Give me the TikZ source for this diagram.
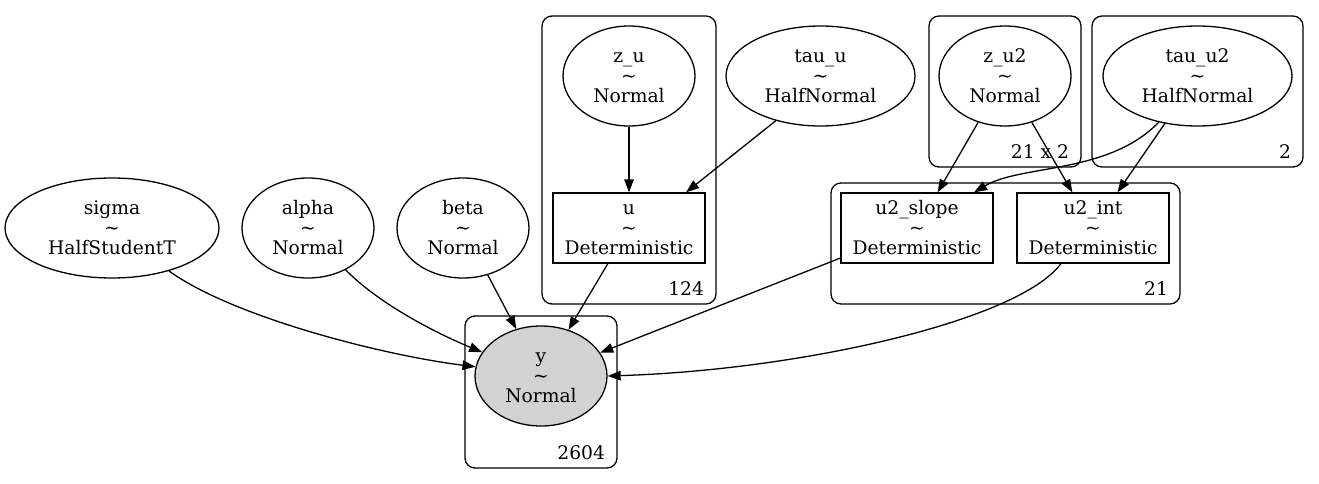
\documentclass[tikz,border=0pt]{standalone}
\usepackage{fontspec}
\setmainfont{DejaVu Serif}
\usetikzlibrary{shapes.geometric, arrows.meta}

\begin{document}
\begin{tikzpicture}[x = 1pt, y = -1pt, line width = 1.3pt,
  font = \fontsize{18.7}{20}\selectfont,
  rv/.style = {draw = black, shape = ellipse, inner sep = 0pt, align = center, minimum height = 100pt},
  det/.style = {draw = black, shape = rectangle, inner sep = 0pt, align = center, minimum width = 152pt, minimum height = 70pt},
  plate/.style = {draw = black, shape = rectangle, rounded corners = 10pt},
  platelabel/.style = {anchor = base east, inner sep = 0pt, xshift = -12pt, yshift = 9pt},
  edge/.style = {draw, -{Triangle[length = 13pt, width = 9.5pt]}}]

\useasboundingbox (0, 0) rectangle (1319, 484);

% plates
\node [plate, minimum width = 174pt, minimum height = 288pt] (p124) at (629, 160) {};
\node [plate, minimum width = 152pt, minimum height = 151pt] (p21x2) at (1005, 91.5) {};
\node [plate, minimum width = 211pt, minimum height = 151pt] (p2) at (1197.5, 91.5) {};
\node [plate, minimum width = 349pt, minimum height = 121pt] (p21) at (1005.5, 243.5) {};
\node [plate, minimum width = 152pt, minimum height = 152pt] (p2604) at (541, 392) {};
\node [platelabel] at (p124.south east) {124};
\node [platelabel] at (p21x2.south east) {21 x 2};
\node [platelabel] at (p2.south east) {2};
\node [platelabel] at (p21.south east) {21};
\node [platelabel] at (p2604.south east) {2604};

% random variables
\node [rv, minimum width = 214pt] (sigma) at (112, 228) {\strut sigma\\\textasciitilde\\HalfStudentT};
\node [rv, minimum width = 132pt] (alpha) at (308, 228) {\strut alpha\\\textasciitilde\\Normal};
\node [rv, minimum width = 132pt] (beta) at (463, 228) {\strut beta\\\textasciitilde\\Normal};
\node [rv, minimum width = 132pt] (zu) at (629, 76) {\strut z\_u\\\textasciitilde\\Normal};
\node [rv, minimum width = 189pt] (tauu) at (820.5, 76) {\strut tau\_u\\\textasciitilde\\HalfNormal};
\node [rv, minimum width = 132pt] (zu2) at (1005, 76) {\strut z\_u2\\\textasciitilde\\Normal};
\node [rv, minimum width = 189pt] (tauu2) at (1197.5, 76) {\strut tau\_u2\\\textasciitilde\\HalfNormal};
\node [rv, minimum width = 132pt, fill = lightgray!70] (y) at (541, 376) {\strut y\\\textasciitilde\\Normal};

% deterministic
\node [det] (u) at (629, 228) {\strut u\\\textasciitilde\\Deterministic};
\node [det] (u2slope) at (917, 228) {\strut u2\_slope\\\textasciitilde\\Deterministic};
\node [det] (u2int) at (1093, 228) {\strut u2\_int\\\textasciitilde\\Deterministic};

% edges
\path [edge] (zu) -- (u);
\path [edge] (tauu.225) -- (u.32);
\path [edge] (zu2) -- (u2slope);
\path [edge] (zu2) -- (u2int);
\path [edge] (tauu2) -- (u2int);
\path [edge] (tauu2.230) .. controls +(-50, 52) and +(47, -28) .. (u2slope.32);

\path [edge] (sigma.-37) .. controls +(62, 45) and +(-96, -12) .. (y.172);
\path [edge] (alpha.-48) .. controls +(30, 31) and +(-53, -22) .. (y.158);
\path [edge] (beta) -- (y);
\path [edge] (u) -- (y);
\path [edge] (u2slope) -- (y);
\path [edge] (u2int.228) .. controls +(-42, 57) and +(193, -6) .. (y.east);
\end{tikzpicture}
\end{document}
